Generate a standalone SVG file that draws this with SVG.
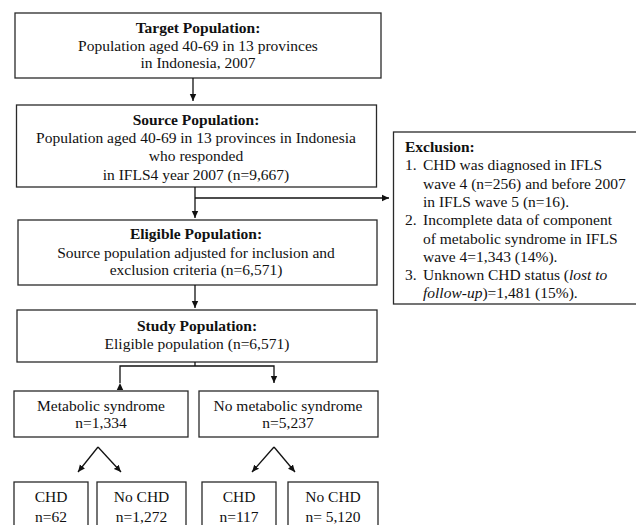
<svg xmlns="http://www.w3.org/2000/svg" width="636" height="525" viewBox="0 0 636 525">
<defs>
<marker id="ah" markerWidth="8" markerHeight="8" refX="7" refY="4" orient="auto" markerUnits="userSpaceOnUse">
<path d="M0,0.8 L7,4 L0,7.2 Z" fill="#111"/>
</marker>
<style>
.box{fill:#fff;stroke:#2a2a2a;stroke-width:1.3}
.t{font-family:"Liberation Serif","Times New Roman",serif;font-size:15.5px;fill:#111;text-anchor:middle}
.b{font-weight:bold}
.l{text-anchor:start}
.c{fill:none;stroke:#111;stroke-width:1.3}
</style>
</defs>
<rect width="636" height="525" fill="#fff"/>
<g id="target">
<rect class="box" x="15" y="13" width="366" height="65"/>
<text class="t b" x="198" y="33">Target Population:</text>
<text class="t" x="198" y="50.5">Population  aged 40-69 in 13 provinces</text>
<text class="t" x="198" y="68">in Indonesia,  2007</text>
</g>
<g id="source">
<rect class="box" x="16.5" y="105" width="360" height="82"/>
<text class="t b" x="196" y="125">Source Population:</text>
<text class="t" x="196" y="143">Population  aged 40-69 in 13 provinces  in Indonesia</text>
<text class="t" x="196" y="161">who responded</text>
<text class="t" x="196" y="179.5">in IFLS4 year 2007 (n=9,667)</text>
</g>
<g id="eligible">
<rect class="box" x="18" y="220" width="359" height="65"/>
<text class="t b" x="196" y="239">Eligible Population:</text>
<text class="t" x="196" y="257.5">Source population  adjusted for inclusion  and</text>
<text class="t" x="196" y="275">exclusion  criteria  (n=6,571)</text>
</g>
<g id="study">
<rect class="box" x="17" y="310" width="360" height="52"/>
<text class="t b" x="197" y="331">Study Population:</text>
<text class="t" x="197" y="349">Eligible  population  (n=6,571)</text>
</g>
<g id="exclusion">
<rect class="box" x="393.5" y="132" width="250" height="172"/>
<text class="t b l" x="405" y="152">Exclusion:</text>
<text class="t l" x="405" y="170">1.</text>
<text class="t l" x="423" y="170">CHD was diagnosed  in IFLS</text>
<text class="t l" x="423" y="188.5">wave 4 (n=256) and before 2007</text>
<text class="t l" x="423" y="207">in IFLS wave 5  (n=16).</text>
<text class="t l" x="405" y="225">2.</text>
<text class="t l" x="423" y="225">Incomplete  data of component</text>
<text class="t l" x="423" y="243.5">of  metabolic  syndrome  in IFLS</text>
<text class="t l" x="423" y="262">wave 4=1,343 (14%).</text>
<text class="t l" x="405" y="280">3.</text>
<text class="t l" x="423" y="280">Unknown  CHD status (<tspan font-style="italic">lost to</tspan></text>
<text class="t l" x="423" y="298"><tspan font-style="italic">follow-up</tspan>)=1,481 (15%).</text>
</g>
<g id="metabolic">
<rect class="box" x="14" y="391" width="174" height="46"/>
<text class="t" x="101" y="411">Metabolic  syndrome</text>
<text class="t" x="101" y="428">n=1,334</text>
</g>
<g id="nometabolic">
<rect class="box" x="199" y="391" width="179" height="46"/>
<text class="t" x="288" y="411">No metabolic  syndrome</text>
<text class="t" x="288" y="428">n=5,237</text>
</g>
<g id="chd1">
<rect class="box" x="14" y="482" width="74" height="50"/>
<text class="t" x="51" y="502">CHD</text>
<text class="t" x="51" y="522">n=62</text>
</g>
<g id="nochd1">
<rect class="box" x="97" y="482" width="89" height="50"/>
<text class="t" x="141.5" y="502">No CHD</text>
<text class="t" x="141.5" y="522">n=1,272</text>
</g>
<g id="chd2">
<rect class="box" x="202" y="482" width="74" height="50"/>
<text class="t" x="239" y="502">CHD</text>
<text class="t" x="239" y="522">n=117</text>
</g>
<g id="nochd2">
<rect class="box" x="288" y="482" width="90" height="50"/>
<text class="t" x="333" y="502">No CHD</text>
<text class="t" x="333" y="522">n= 5,120</text>
</g>
<g id="connectors">
<path class="c" d="M193,78 V101" marker-end="url(#ah)"/>
<path class="c" d="M195,187 V218" marker-end="url(#ah)"/>
<path class="c" d="M195,198 H389" marker-end="url(#ah)"/>
<path class="c" d="M195,285 V308" marker-end="url(#ah)"/>
<path class="c" d="M195,362 V366"/>
<path class="c" d="M120,383 V366 H274 V383" marker-start="url(#ah)" marker-end="url(#ah)"/>
<path class="c" d="M98,447 L78,472" marker-end="url(#ah)"/>
<path class="c" d="M98,447 L121,472" marker-end="url(#ah)"/>
<path class="c" d="M274,447 L252,472" marker-end="url(#ah)"/>
<path class="c" d="M274,447 L295,472" marker-end="url(#ah)"/>
</g>
</svg>
